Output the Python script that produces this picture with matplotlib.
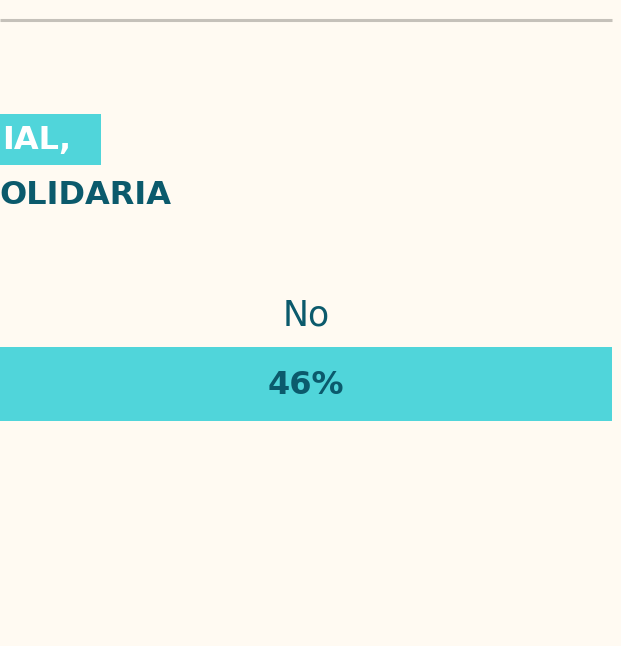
import matplotlib.pyplot as plt
from matplotlib.patches import Rectangle

W, H = 621, 646
BG = "#fffaf2"
TEAL = "#50d5da"
DARK = "#0b5a6c"
RULE = "#c5c1ba"

# data
categories = ["No"]
values = [46]
title_lines = ["IAL,", "OLIDARIA"]

plt.rcParams["font.family"] = ["DejaVu Sans"]

fig = plt.figure(figsize=(W / 100, H / 100), dpi=100, facecolor=BG)

# background layer in pixel coordinates
bg = fig.add_axes([0, 0, 1, 1])
bg.set_xlim(0, W)
bg.set_ylim(H, 0)
bg.axis("off")
bg.set_facecolor(BG)

# top rule
bg.plot([0, 612], [19.5, 19.5], color=RULE, lw=2.2, solid_capstyle="butt")

# title (cut at the left edge)
bg.add_patch(Rectangle((0, 114), 101, 51, color=TEAL, lw=0))
bg.text(71, 141, title_lines[0], ha="right", va="center", color="white",
        fontsize=23, fontweight="bold")
bg.text(171, 195, title_lines[1], ha="right", va="center", color=DARK,
        fontsize=23, fontweight="bold")

# bar
ax = fig.add_axes([0, 1 - 421 / H, 612 / W, 74 / H])
ax.set_xlim(0, values[0])
ax.set_ylim(-0.5, 0.5)
ax.axis("off")
ax.barh(0, values[0], height=1.0, color=TEAL, lw=0)
ax.text(values[0] / 2, -0.02, f"{values[0]}%", ha="center", va="center",
        color=DARK, fontsize=23, fontweight="bold")
ax.text(values[0] / 2, 0.92, categories[0], ha="center", va="center",
        color=DARK, fontsize=25, clip_on=False)

fig.savefig("out.png", dpi=100, facecolor=BG)
